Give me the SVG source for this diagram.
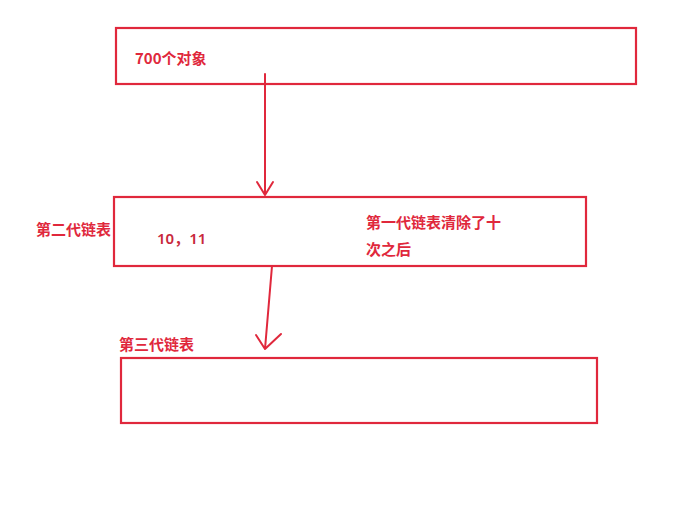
<svg xmlns="http://www.w3.org/2000/svg" width="691" height="513" viewBox="0 0 691 513">
<style>
.box{fill:#fff;stroke:#e0283c;stroke-width:2.2}
.t{font-family:"Noto Sans CJK SC","Noto Sans",sans-serif;fill:#e0283c;font-weight:bold;font-size:15px}
.n{font-family:"Noto Sans","Noto Sans CJK SC",sans-serif;fill:#c8283c;font-weight:600;font-size:15px}
.c{fill:none;stroke:#e0283c;stroke-width:2;stroke-linecap:round;stroke-linejoin:round}
</style>
<rect width="691" height="513" fill="#fff"/>
<g id="node1">
<rect class="box" x="116" y="28" width="520" height="56"/>
<text class="t" x="135" y="64">700个对象</text>
</g>
<g id="node2">
<rect class="box" x="114" y="197" width="472" height="69"/>
<text class="t" x="36" y="235">第二代链表</text>
<text class="n" x="157" y="244">10，11</text>
<text class="t" x="366" y="228">第一代链表清除了十</text>
<text class="t" x="366" y="255">次之后</text>
</g>
<g id="node3">
<text class="t" x="119" y="350">第三代链表</text>
<rect class="box" x="121" y="358" width="476" height="65"/>
</g>
<g id="connectors">
<path class="c" d="M265 74 L265 195 M257 182 L265 195 L273 182"/>
<path class="c" d="M272 266 L265 349 M256 335 L265 349 L281 334"/>
</g>
</svg>
